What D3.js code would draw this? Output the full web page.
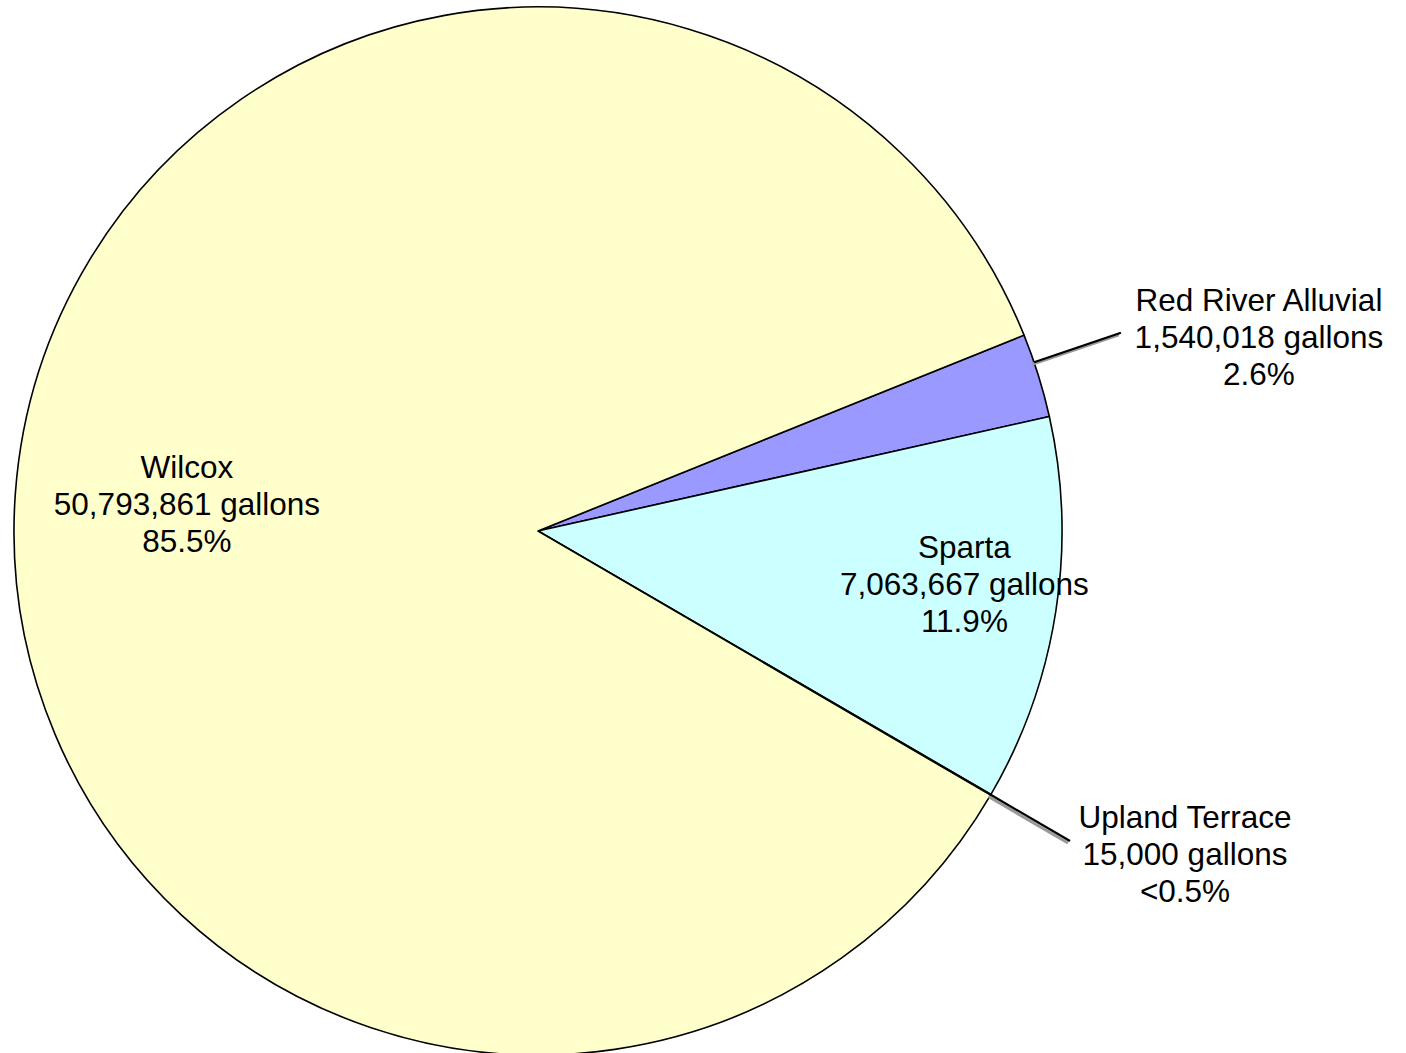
<!DOCTYPE html>
<html><head><meta charset="utf-8">
<script src="https://cdn.jsdelivr.net/npm/d3@7"></script>
<style>html,body{margin:0;padding:0;background:#fff;}svg{display:block;}</style>
</head><body>
<svg id="chart" width="1406" height="1053"></svg>
<script>
// Data (in clockwise drawing order)
const categories = ["Red River Alluvial", "Sparta", "Upland Terrace", "Wilcox"];
const gallons = [1540018, 7063667, 15000, 50793861];
const percentLabels = ["2.6%", "11.9%", "<0.5%", "85.5%"];
const colors = ["#9999FF", "#CCFFFF", "#993366", "#FFFFCC"];

// Layout
const W = 1406, H = 1053;
const cx = 538, cy = 531, R = 524;
const startDeg = 68.05;
const fontSize = 31.5, lineH = 37;
// label placement: radius factor and angle offset (deg) relative to slice mid angle; leader line angle offset
const labelLayout = [
  {rf: 1.425, dAng: 2.2, leader: true, lAng: -1.5},
  {rf: 0.82, dAng: -1.7, leader: false},
  {rf: 1.38, dAng: -3.7, leader: true, lAng: 0},
  {rf: 0.672, dAng: 0.3, leader: false}
];

const svg = d3.select("#chart");
const g = svg.append("g").attr("transform", `translate(${cx},${cy})`);

const pie = d3.pie().sort(null).value(d => d)
  .startAngle(startDeg * Math.PI / 180)
  .endAngle(startDeg * Math.PI / 180 + 2 * Math.PI);
const arcs = pie(gallons);
const arc = d3.arc().innerRadius(0).outerRadius(R);

g.selectAll("path.slice").data(arcs).enter().append("path")
  .attr("class", "slice")
  .attr("d", arc)
  .attr("fill", (d, i) => colors[i])
  .attr("stroke", "#000")
  .attr("stroke-width", 1.6)
  .attr("stroke-linejoin", "round");

const fmt = d3.format(",");
const polar = (ang, r) => [r * Math.sin(ang), -r * Math.cos(ang)];

arcs.forEach((d, i) => {
  const L = labelLayout[i];
  const mid = (d.startAngle + d.endAngle) / 2;
  if (L.leader) {
    const la = mid + L.lAng * Math.PI / 180;
    const p0 = polar(la, R), p1 = polar(la, R * 1.175);
    g.append("line").attr("x1", p0[0] - 2).attr("y1", p0[1] + 2).attr("x2", p1[0] - 2).attr("y2", p1[1] + 2)
      .attr("stroke", "#999").attr("stroke-width", 3);
    g.append("line").attr("x1", p0[0]).attr("y1", p0[1]).attr("x2", p1[0]).attr("y2", p1[1])
      .attr("stroke", "#000").attr("stroke-width", 2.2);
  }
  const lp = polar(mid + L.dAng * Math.PI / 180, R * L.rf);
  const t = g.append("text")
    .attr("text-anchor", "middle")
    .attr("font-family", "'Liberation Sans', Arial, sans-serif")
    .attr("font-size", fontSize + "px")
    .attr("fill", "#000");
  const lines = [categories[i], fmt(d.data) + " gallons", percentLabels[i]];
  lines.forEach((s, k) => {
    t.append("tspan").attr("x", lp[0]).attr("y", lp[1] + (k - 1) * lineH + 11).text(s);
  });
});
</script>
</body></html>
